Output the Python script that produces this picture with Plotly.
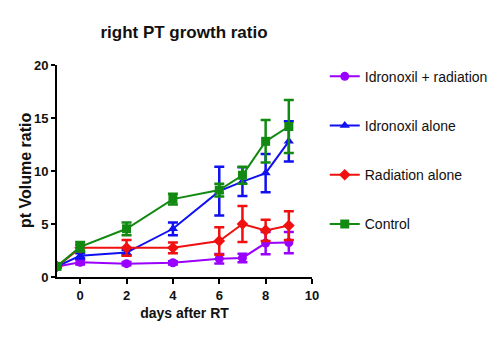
import plotly.graph_objects as go

days = [-1, 0, 2, 4, 6, 7, 8, 9]
series_names = ["Idronoxil + radiation", "Idronoxil alone", "Radiation alone", "Control"]
combo = [1.0, 1.38, 1.26, 1.34, 1.72, 1.8, 3.2, 3.25]
combo_err = [0.1, 0.2, 0.15, 0.15, 0.45, 0.4, 1.05, 1.0]
idro = [1.0, 2.0, 2.3, 4.55, 8.1, 9.0, 9.8, 12.8]
idro_err = [0.1, 0.25, 0.25, 0.6, 2.3, 1.35, 1.8, 1.9]
rad = [1.0, 2.75, 2.75, 2.75, 3.4, 5.0, 4.4, 4.85]
rad_err = [0.1, 0.3, 0.75, 0.5, 1.3, 1.7, 1.0, 1.35]
ctrl = [1.0, 2.85, 4.55, 7.35, 8.2, 9.6, 12.8, 14.2]
ctrl_err = [0.1, 0.45, 0.6, 0.5, 0.6, 0.8, 2.0, 2.5]

colors = ["#9900ff", "#1010f0", "#f01010", "#128a12"]
symbols = ["circle", "triangle-up", "diamond", "square"]
values = [combo, idro, rad, ctrl]
errs = [combo_err, idro_err, rad_err, ctrl_err]

fig = go.Figure()
for i in range(4):
    fig.add_trace(go.Scatter(
        x=days, y=values[i], name=series_names[i], mode="lines+markers",
        legendgroup=f"g{i}",
        line=dict(color=colors[i], width=2),
        marker=dict(color=colors[i], symbol=symbols[i], size=9),
        error_y=dict(type="data", array=errs[i], visible=True, color=colors[i], thickness=2.5, width=5),
    ))

fig.update_layout(
    width=493, height=341, paper_bgcolor="white", plot_bgcolor="white",
    margin=dict(l=57, r=181, t=65, b=64, autoexpand=False),
    title=dict(text="<b>right PT growth ratio</b>", x=(57 + 127) / 493, xanchor="center",
               y=1 - 32 / 341, yanchor="middle",
               font=dict(family="Liberation Sans, Arial", size=17, color="#111")),
    font=dict(family="Liberation Sans, Arial", color="#111"),
    legend=dict(x=1.05, xanchor="left", y=1.02, yanchor="top", tracegroupgap=28,
                font=dict(size=14, color="#111"), bgcolor="rgba(0,0,0,0)", itemwidth=30,
                maxheight=320),
    showlegend=True,
    annotations=[dict(text="<b>pt Volume ratio</b>", xref="paper", yref="paper",
                      x=(25 - 57) / 255, y=0.5, xanchor="center", yanchor="middle",
                      textangle=-90, showarrow=False,
                      font=dict(family="Liberation Sans, Arial", size=16, color="#111"))],
)
fig.update_xaxes(range=[-1, 10], tickvals=[0, 2, 4, 6, 8, 10], showline=True, linecolor="black",
                 linewidth=2, ticks="outside", ticklen=5, tickwidth=2, tickcolor="black",
                 showgrid=False, zeroline=False,
                 tickfont=dict(size=13, family="Liberation Sans, Arial", weight="bold"),
                 title=dict(text="<b>days after RT</b>", font=dict(size=14), standoff=7))
fig.update_yaxes(range=[0, 20], tickvals=[0, 5, 10, 15, 20], showline=True, linecolor="black",
                 linewidth=2, ticks="outside", ticklen=4, tickwidth=2, tickcolor="black",
                 showgrid=False, zeroline=False,
                 tickfont=dict(size=13, family="Liberation Sans, Arial", weight="bold"))

fig.write_html("out.html")
